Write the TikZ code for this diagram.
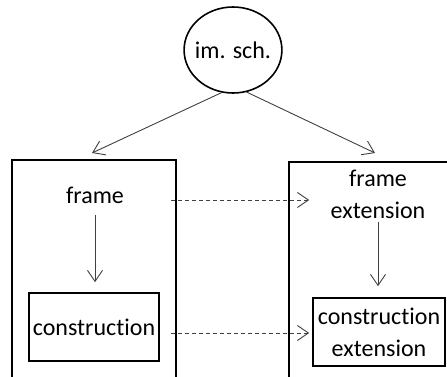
\documentclass[tikz,border=0pt]{standalone}
\usepackage{fontspec}
\setmainfont[Ligatures=NoCommon]{Carlito}
\usetikzlibrary{arrows.meta,shapes.geometric}
\definecolor{arrowgray}{HTML}{404040}
\tikzset{
  box/.style={draw=black, line width=1.6pt, inner sep=0pt},
  lbl/.style={font=\fontsize{24}{32}\selectfont, align=center, inner sep=0pt},
  arr/.style={draw=arrowgray, line width=0.9pt, -{Straight Barb[length=11pt,width=15pt,line width=0.9pt]}},
  dasharr/.style={arr, dash pattern=on 4pt off 3pt},
}
\begin{document}
\begin{tikzpicture}[x=1pt,y=-1pt]
\useasboundingbox (0,0) rectangle (447,377);
\clip (0,0) rectangle (447,377);
% top ellipse
\node[draw=black, line width=1.6pt, ellipse, minimum height=86pt, inner xsep=-3.5pt, inner ysep=0pt,
      font=\fontsize{24}{32}\selectfont] (im) at (233,50) {im. sch.};
% outer boxes
\node[box, minimum width=164pt, minimum height=240pt] (lo) at (94,280) {};
\node[box, minimum width=170pt, minimum height=240pt] (ro) at (374,282) {};
% texts
\node[lbl] (fr) at (95,195) {frame};
\node[lbl] (fe) at (378,194) {frame\\extension};
% inner boxes
\node[box, minimum width=130pt, minimum height=68pt, lbl] (cons) at (94,327) {construction};
\node[box, minimum width=132pt, minimum height=68pt, lbl] (ce) at (379,332) {construction\\extension};
% free ends of the top arrows
\coordinate (la) at (92,153);
\coordinate (ra) at (375,153);
% connectors
\draw[arr] (im.255) -- (la);
\draw[arr] (im.288) -- (ra);
\draw[arr, shorten <=11pt, shorten >=10pt] (fr) -- (fr |- cons.north);
\draw[arr, shorten <=3pt, shorten >=11pt] (fe) -- (fe |- ce.north);
\draw[dasharr] ([xshift=-6pt,yshift=-5pt]fr -| lo.east) -- ([xshift=21pt,yshift=-5pt]fr -| ro.west);
\draw[dasharr] ([xshift=11pt,yshift=-6pt]cons.east) -- ([xshift=-3pt,yshift=-6pt]cons -| ce.west);
\end{tikzpicture}
\end{document}
